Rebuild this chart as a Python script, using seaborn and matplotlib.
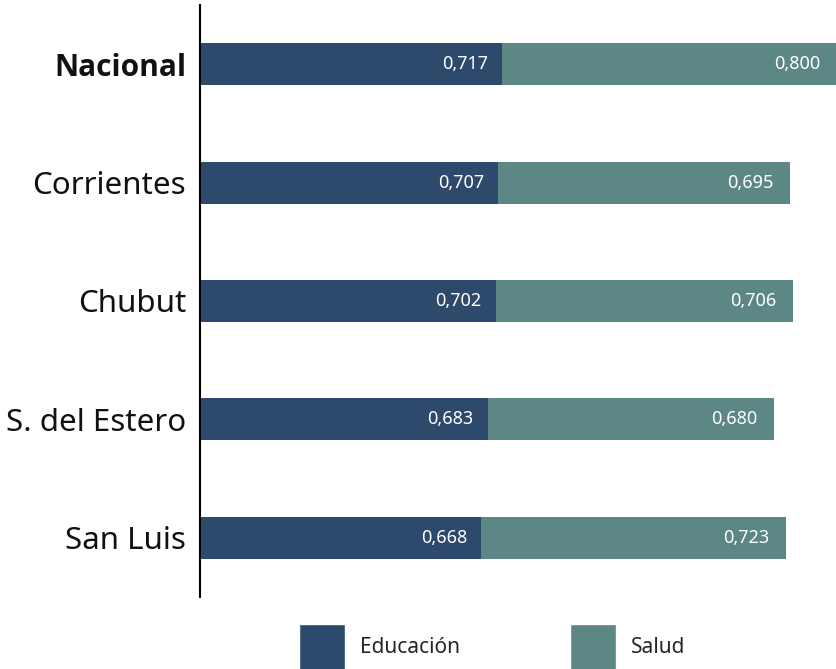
import matplotlib
matplotlib.use("Agg")
import matplotlib.pyplot as plt
import seaborn as sns
import pandas as pd
from matplotlib.patches import Patch

# data
regiones = ['Nacional', 'Corrientes', 'Chubut', 'S. del Estero', 'San Luis']
educacion = [0.717, 0.707, 0.702, 0.683, 0.668]
salud = [0.800, 0.695, 0.706, 0.680, 0.723]

col_edu = '#2D4A6D'
col_sal = '#5C8784'

df = pd.DataFrame({'Region': regiones, 'Educacion': educacion, 'Salud': salud})
df['Total'] = df['Educacion'] + df['Salud']

sns.set_style('white')
plt.rcParams['font.family'] = ['Noto Sans', 'DejaVu Sans']

fig = plt.figure(figsize=(8.37, 6.69), dpi=100)
ax = fig.add_axes([200 / 837, 1 - 597 / 669, 637 / 837, 592 / 669])

# stacked: total first (salud colour), educacion on top
sns.barplot(data=df, y='Region', x='Total', color=col_sal, orient='h',
            width=0.355, saturation=1, linewidth=0, ax=ax)
sns.barplot(data=df, y='Region', x='Educacion', color=col_edu, orient='h',
            width=0.355, saturation=1, linewidth=0, ax=ax)

ax.set_xlim(0, 1.513)
ax.set_ylim(4.5, -0.5)

# value labels inside the bars
for i, (e, t, s) in enumerate(zip(df['Educacion'], df['Total'], df['Salud'])):
    ax.annotate(f'{e:.3f}'.replace('.', ','), xy=(e, i), xytext=(-10, 0),
                textcoords='offset points', ha='right', va='center',
                color='white', fontsize=13)
    ax.annotate(f'{s:.3f}'.replace('.', ','), xy=(min(t, 1.513), i), xytext=(-12, 0),
                textcoords='offset points', ha='right', va='center',
                color='white', fontsize=13)

ax.set_xlabel('')
ax.set_ylabel('')
ax.set_xticks([])
ax.tick_params(axis='y', length=0, pad=10, labelsize=22.5, labelcolor='#111111')
for lbl in ax.get_yticklabels():
    if lbl.get_text() == 'Nacional':
        lbl.set_fontfamily(['Open Sans', 'DejaVu Sans'])
        lbl.set_fontweight('bold')
        lbl.set_fontsize(21.5)

for side in ['top', 'right', 'bottom']:
    ax.spines[side].set_visible(False)
ax.spines['left'].set_color('black')
ax.spines['left'].set_linewidth(1.5)

handles = [Patch(facecolor=col_edu, label='Educación'),
           Patch(facecolor=col_sal, label='Salud')]
fig.legend(handles=handles, loc='center', bbox_to_anchor=(0.588, 0.033),
           ncol=2, frameon=False, fontsize=15, handlelength=2.2,
           handleheight=3.0, handletextpad=0.72, columnspacing=5.3)

fig.savefig('out.png', dpi=100)
